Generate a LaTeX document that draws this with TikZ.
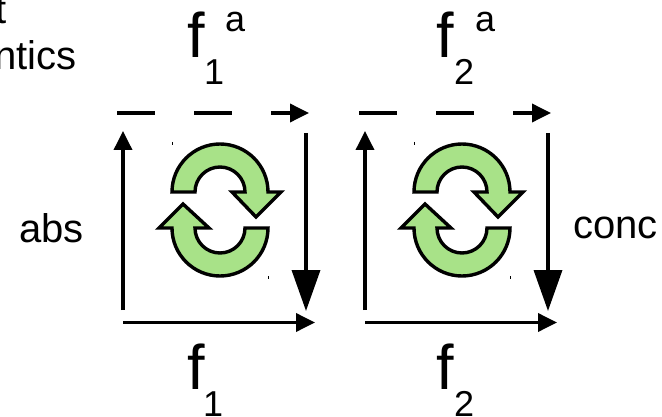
\documentclass[tikz,border=0pt]{standalone}
\usepackage{fontspec}
\setmainfont{Liberation Sans}
\usetikzlibrary{arrows.meta, positioning}
\definecolor{cyclegreen}{HTML}{A8E288}

\begin{document}
\begin{tikzpicture}[
    x=1pt, y=-1pt,
    edge/.style = {line width=3.6pt, -{Triangle[length=19pt, width=18pt]}},
    bigedge/.style = {line width=3.6pt, -{Triangle[length=41pt, width=28pt]}},
    dashededge/.style = {edge, dash pattern=on 38pt off 39pt},
    cycle/.style = {draw=black, line width=3.4pt, fill=cyclegreen, line join=miter},
    speck/.style = {draw=black, line width=0.8pt},
    label/.style = {inner sep=0pt, anchor=base west, font=\fontsize{40}{40}\selectfont},
    fname/.style = {inner sep=0pt, anchor=base west, font=\fontsize{63}{63}\selectfont},
    idx/.style = {inner sep=0pt, anchor=base west, font=\fontsize{36}{36}\selectfont}
  ]
  \useasboundingbox (0,0) rectangle (662,417);

  % corners of the two squares
  \foreach \n/\dx in {a/0, b/242} {
    \begin{scope}[xshift=\dx pt]
      \coordinate (dash\n start) at (117,113);
      \coordinate (dash\n end)   at (309,113);
      \coordinate (up\n start)   at (123,310);
      \coordinate (up\n end)     at (123,131);
      \coordinate (down\n start) at (306,133);
      \coordinate (down\n end)   at (306,311);
      \coordinate (low\n start)  at (123,322.5);
      \coordinate (low\n end)    at (315,322.5);

      \draw[dashededge] (dash\n start) -- (dash\n end);
      \draw[edge]    (up\n start)   -- (up\n end);
      \draw[bigedge] (down\n start) -- (down\n end);
      \draw[edge]    (low\n start)  -- (low\n end);

      % the two turning arrows
      \draw[cycle] (172,192) arc[start angle=180, end angle=0, radius=48pt]
        -- (281,192) -- (256,217) -- (232,192) -- (245,192)
        arc[start angle=0, end angle=180, radius=25pt] -- cycle;
      \draw[cycle] (268,228) arc[start angle=0, end angle=-180, radius=48pt]
        -- (159,228) -- (183,204) -- (209,228) -- (195,228)
        arc[start angle=180, end angle=360, radius=25pt] -- cycle;

      \draw[speck] (172.5,142) -- (172.5,145);
      \draw[speck] (268.5,276) -- (268.5,279);
    \end{scope}
  }

  \node[label] (sem1) at (-5,24) {t};
  \node[label] (sem2) at (-6,70) {ntics};
  \node[label] (abs)  at (19,243) {abs};
  \node[label] (conc) at (573,238) {conc};

  \node[fname] (fa1) at (187,58) {f};
  \node[idx]   (fa1i) at (204,85) {1};
  \node[idx]   (fa1s) at (225,32) {a};
  \node[fname] (fa2) at (436,58) {f};
  \node[idx]   (fa2i) at (454,85) {2};
  \node[idx]   (fa2s) at (475,32) {a};

  \node[fname] (f1) at (187,389) {f};
  \node[idx]   (f1i) at (203,416) {1};
  \node[fname] (f2) at (436,389) {f};
  \node[idx]   (f2i) at (454,416) {2};
\end{tikzpicture}
\end{document}
